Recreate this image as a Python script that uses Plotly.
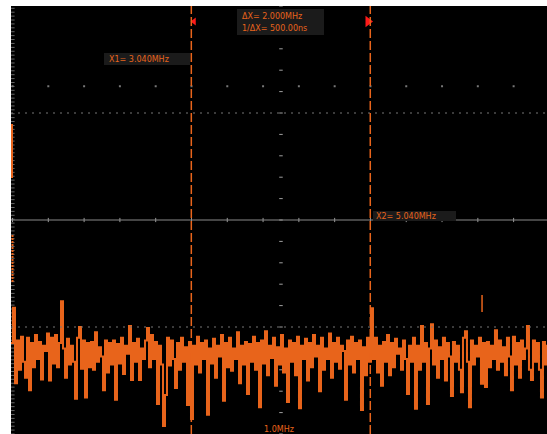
import numpy as np
import plotly.graph_objects as go

# ---- data ----
f_start, f_stop = 1.025, 7.015          # MHz, visible span
center_f = 4.042                        # MHz
x1_f, x2_f = 3.040, 5.040               # cursor positions, MHz
level_top, level_bot = 0.0, -80.0       # dB span (10 dB/div style)

noise_db = [
    -63.0, -56.4, -70.5, -62.5, -68.0, -61.8, -66.5, -69.5, -62.0, -71.8,
    -63.0, -67.5, -61.5, -66.0, -62.8, -69.8, -63.5, -64.5, -61.2, -70.0,
    -62.0, -66.8, -61.5, -67.5, -63.0, -55.2, -64.0, -69.5, -62.2, -67.0,
    -63.5, -66.5, -73.4, -62.0, -60.0, -67.8, -62.5, -73.2, -63.0, -67.5,
    -62.8, -68.0, -61.0, -66.5, -63.8, -65.5, -71.8, -62.5, -68.5, -63.0,
    -67.0, -62.5, -73.6, -63.2, -66.8, -62.0, -68.8, -63.5, -65.0, -59.8,
    -69.9, -63.0, -66.5, -62.2, -69.9, -64.0, -66.0, -62.5, -60.2, -67.5,
    -61.5, -66.0, -62.8, -74.4, -63.5, -67.0, -78.5, -72.7, -62.0, -67.2,
    -62.5, -66.0, -71.4, -63.0, -68.0, -62.0, -66.5, -63.8, -74.6, -62.8,
    -77.2, -63.5, -67.0, -61.8, -68.5, -63.0, -66.0, -62.5, -76.4, -64.0,
    -66.8, -62.2, -69.5, -63.5, -65.5, -61.5, -73.8, -63.0, -67.5, -62.0,
    -68.2, -64.0, -66.0, -61.0, -70.5, -63.5, -67.0, -62.8, -72.5, -63.2,
    -66.5, -61.8, -68.0, -63.0, -75.0, -62.5, -66.8, -60.8, -69.0, -63.5,
    -65.8, -62.0, -71.0, -63.8, -67.0, -61.5, -68.5, -64.0, -74.0, -62.5,
    -66.5, -63.0, -69.0, -61.8, -75.2, -63.5, -66.0, -62.2, -70.0, -63.0,
    -67.5, -61.5, -65.5, -63.5, -72.0, -62.0, -68.0, -64.0, -66.0, -61.2,
    -69.5, -63.0, -66.5, -62.0, -67.8, -63.5, -64.5, -73.6, -62.5, -67.0,
    -61.8, -68.5, -63.0, -66.0, -62.5, -75.5, -63.8, -69.0, -62.0, -66.5,
    -56.5, -66.0, -62.0, -68.5, -63.5, -71.0, -62.8, -66.5, -61.5, -69.0,
    -63.0, -67.5, -62.2, -65.0, -64.0, -68.0, -62.5, -66.0, -72.5, -63.5,
    -66.5, -62.0, -75.3, -63.5, -68.0, -59.8, -66.5, -63.0, -74.4, -64.0,
    -59.5, -67.0, -62.5, -69.5, -63.8, -66.0, -62.0, -70.0, -63.0, -65.5,
    -72.9, -62.8, -66.5, -63.5, -68.0, -72.2, -62.0, -60.8, -66.5, -75.0,
    -62.5, -67.0, -63.5, -65.5, -62.0, -70.6, -63.0, -71.2, -62.8, -67.5,
    -63.5, -66.0, -60.6, -68.0, -62.5, -66.5, -63.8, -69.0, -62.0, -65.5,
    -71.8, -61.8, -67.0, -63.0, -69.5, -62.5, -66.0, -64.0, -59.8, -68.0,
    -69.9, -62.5, -66.5, -63.0, -68.0, -73.2, -62.8, -67.0, -63.5, -66.0,
]
freq = np.linspace(f_start, 7.037, len(noise_db))

spur_f = 6.289
spur_db = [-54.0, -57.2]

texts_dx = ["ΔX= 2.000MHz", "1/ΔX= 500.00ns"]
text_x1 = "X1= 3.040MHz"
text_x2 = "X2= 5.040MHz"
scale_text = "1.0MHz"

# ---- figure ----
W, H = 547, 434
ML, MT = 11, 6
PW, PH = W - ML, H - MT
ORANGE = "#e8641b"
GRAY = "#8a8a8a"

def px_x(px):
    return f_start + (px - ML) / PW * (f_stop - f_start)

def px_y(py):
    return level_top - (py - MT) / PH * (level_top - level_bot)

fig = go.Figure()

# left-edge tick marks
ly = np.arange(level_bot, level_top, 0.73)
fig.add_trace(go.Scatter(x=[px_x(12.5)] * len(ly), y=ly, mode="markers",
                         marker=dict(symbol="line-ew", size=3, line=dict(color="#666", width=1)),
                         hoverinfo="skip", showlegend=False))
# centre vertical axis ticks
vy = np.arange(-80, 1, 4.0)
fig.add_trace(go.Scatter(x=[center_f] * len(vy), y=vy, mode="markers",
                         marker=dict(symbol="line-ew", size=2.5, line=dict(color="#a0a0a0", width=1)),
                         hoverinfo="skip", showlegend=False))
# dot rows
hx = np.concatenate([center_f + 0.2 + 0.4 * np.arange(8), center_f - 0.2 - 0.4 * np.arange(8)])
fig.add_trace(go.Scatter(x=hx, y=[-15.0] * len(hx), mode="markers",
                         marker=dict(symbol="square", size=2, color="#777"),
                         hoverinfo="skip", showlegend=False))
fig.add_trace(go.Scatter(x=hx, y=[-40.0] * len(hx), mode="markers",
                         marker=dict(symbol="line-ns", size=3, line=dict(color="#9a9a9a", width=1)),
                         hoverinfo="skip", showlegend=False))

# noise trace
fig.add_trace(go.Scatter(x=freq, y=noise_db, mode="lines", line_shape="hv",
                         line=dict(color=ORANGE, width=2),
                         hoverinfo="skip", showlegend=False))
fig.add_trace(go.Scatter(x=[spur_f, spur_f], y=spur_db, mode="lines",
                         line=dict(color=ORANGE, width=1.5),
                         hoverinfo="skip", showlegend=False))

# cursor triangles
fig.add_trace(go.Scatter(x=[px_x(194)], y=[px_y(21.5)], mode="markers",
                         marker=dict(symbol="triangle-left", size=7, color="#ff1a1a"),
                         hoverinfo="skip", showlegend=False))
fig.add_trace(go.Scatter(x=[px_x(368)], y=[px_y(21.5)], mode="markers",
                         marker=dict(symbol="triangle-right", size=10, color="#ff1a1a"),
                         hoverinfo="skip", showlegend=False))

shapes = []
# centre solid line and dotted lines
shapes.append(dict(type="line", xref="paper", yref="y", x0=0, x1=1, y0=-40, y1=-40,
                   line=dict(color=GRAY, width=1)))
for yv in (-20, -60):
    shapes.append(dict(type="line", xref="paper", yref="y", x0=0, x1=1, y0=yv, y1=yv,
                       line=dict(color="#777", width=1, dash="2px,5px")))
# cursors
for xv in (x1_f, x2_f):
    shapes.append(dict(type="line", xref="x", yref="paper", x0=xv, x1=xv, y0=0, y1=1,
                       line=dict(color=ORANGE, width=1.5, dash="9px,3px")))
# channel markers at left edge
shapes.append(dict(type="line", xref="x", yref="y", x0=px_x(12), x1=px_x(12),
                   y0=px_y(124), y1=px_y(178), line=dict(color=ORANGE, width=2)))
shapes.append(dict(type="line", xref="x", yref="y", x0=px_x(12.5), x1=px_x(12.5),
                   y0=px_y(235), y1=px_y(282), line=dict(color=ORANGE, width=2, dash="2px,1px")))
# text boxes
for (a, b, c, d) in [(237, 324, 9, 35), (104, 190, 53, 65), (373, 456, 211, 221)]:
    shapes.append(dict(type="rect", xref="x", yref="y", x0=px_x(a), x1=px_x(b),
                       y0=px_y(c), y1=px_y(d), fillcolor="#1b1b1b", line=dict(width=0),
                       layer="above"))

fnt = dict(family="DejaVu Sans", size=8, color=ORANGE)
annotations = [
    dict(x=px_x(240), y=px_y(16), text=texts_dx[0]),
    dict(x=px_x(240), y=px_y(28), text=texts_dx[1]),
    dict(x=px_x(107), y=px_y(59), text=text_x1),
    dict(x=px_x(374), y=px_y(216), text=text_x2),
]
for a in annotations:
    a.update(xref="x", yref="y", xanchor="left", yanchor="middle", showarrow=False, font=fnt)
annotations.append(dict(x=px_x(279), y=px_y(429), xref="x", yref="y", text=scale_text,
                        xanchor="center", yanchor="middle", showarrow=False, font=fnt))

fig.update_layout(
    width=W, height=H,
    margin=dict(l=ML, r=0, t=MT, b=0),
    paper_bgcolor="white", plot_bgcolor="black",
    xaxis=dict(range=[f_start, f_stop], visible=False, fixedrange=True),
    yaxis=dict(range=[level_bot, level_top], visible=False, fixedrange=True),
    shapes=shapes, annotations=annotations, showlegend=False,
)

fig.write_html("out.html", config={"displayModeBar": False},
               post_script="document.body.style.margin='0px';document.body.style.overflow='hidden';")
